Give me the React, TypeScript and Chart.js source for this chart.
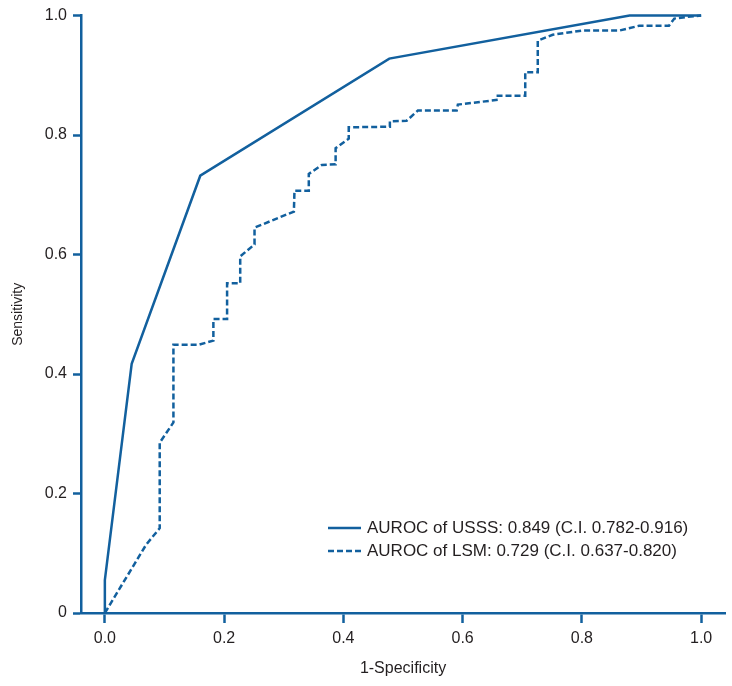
import React, { useEffect, useRef } from "react";
import { Chart, registerables } from "chart.js";

Chart.register(...registerables);

const COLOR = "#12609e";
const TEXT = "#231f20";
const FONT = "'Liberation Sans', Arial, Helvetica, sans-serif";

const usssFpr = [0, 0, 0.045, 0.16, 0.477, 0.88, 1.0];
const usssTpr = [0, 0.055, 0.417, 0.732, 0.928, 1.0, 1.0];

const lsmFpr = [
  0, 0.069, 0.092, 0.092, 0.115, 0.115, 0.157, 0.182, 0.182, 0.205, 0.205,
  0.227, 0.227, 0.251, 0.251, 0.317, 0.318, 0.342, 0.342, 0.364, 0.387, 0.387,
  0.409, 0.409, 0.478, 0.478, 0.506, 0.525, 0.59, 0.592, 0.659, 0.659, 0.705,
  0.705, 0.726, 0.726, 0.751, 0.801, 0.863, 0.896, 0.946, 0.955, 0.977, 1.0,
];
const lsmTpr = [
  0, 0.114, 0.142, 0.285, 0.319, 0.449, 0.449, 0.456, 0.492, 0.492, 0.552,
  0.552, 0.597, 0.617, 0.645, 0.672, 0.707, 0.707, 0.735, 0.75, 0.751, 0.778,
  0.794, 0.813, 0.814, 0.823, 0.824, 0.841, 0.841, 0.851, 0.859, 0.866, 0.866,
  0.905, 0.905, 0.958, 0.968, 0.975, 0.975, 0.983, 0.983, 0.995, 0.998, 1.0,
];

const seriesLabels = [
  "AUROC of USSS: 0.849 (C.I. 0.782-0.916)",
  "AUROC of LSM: 0.729 (C.I. 0.637-0.820)",
];

const xTickValues = [0, 0.2, 0.4, 0.6, 0.8, 1.0];
const xTickLabels = ["0.0", "0.2", "0.4", "0.6", "0.8", "1.0"];
const yTickValues = [0, 0.2, 0.4, 0.6, 0.8, 1.0];
const yTickLabels = ["0", "0.2", "0.4", "0.6", "0.8", "1.0"];

const xTitle = "1-Specificity";
const yTitle = "Sensitivity";

const toPoints = (xs: number[], ys: number[]) => xs.map((x, i) => ({ x, y: ys[i] }));

const legendPlugin = {
  id: "customLegend",
  afterDraw(chart: any) {
    const { ctx, chartArea } = chart;
    const x0 = chartArea.left + 247;
    const y0 = chartArea.bottom - 85;
    ctx.save();
    chart.data.datasets.forEach((ds: any, i: number) => {
      const y = y0 + i * 23;
      ctx.beginPath();
      ctx.setLineDash(ds.borderDash || []);
      ctx.strokeStyle = ds.borderColor;
      ctx.lineWidth = ds.borderWidth;
      ctx.moveTo(x0, y);
      ctx.lineTo(x0 + 33, y);
      ctx.stroke();
      ctx.setLineDash([]);
      ctx.fillStyle = TEXT;
      ctx.font = `17px ${FONT}`;
      ctx.textBaseline = "middle";
      ctx.textAlign = "left";
      ctx.fillText(ds.label, x0 + 39, y);
    });
    ctx.restore();
  },
};

export default function App() {
  const ref = useRef<HTMLCanvasElement>(null);

  useEffect(() => {
    if (!ref.current) return;
    const chart = new Chart(ref.current, {
      type: "line",
      data: {
        datasets: [
          {
            label: seriesLabels[0],
            data: toPoints(usssFpr, usssTpr),
            borderColor: COLOR,
            backgroundColor: COLOR,
            borderWidth: 2.5,
            pointRadius: 0,
            tension: 0,
            fill: false,
            clip: false,
          },
          {
            label: seriesLabels[1],
            data: toPoints(lsmFpr, lsmTpr),
            borderColor: COLOR,
            backgroundColor: COLOR,
            borderWidth: 2.5,
            borderDash: [6, 3],
            pointRadius: 0,
            tension: 0,
            fill: false,
            clip: false,
          },
        ],
      },
      options: {
        animation: false,
        responsive: false,
        maintainAspectRatio: false,
        layout: { padding: { top: 14, right: 7, left: 0, bottom: 0 } },
        plugins: {
          legend: { display: false },
          tooltip: { enabled: false },
        },
        scales: {
          x: {
            type: "linear",
            min: -0.04,
            max: 1.04,
            afterBuildTicks: (scale: any) => {
              scale.ticks = xTickValues.map((v) => ({ value: v }));
            },
            afterFit: (scale: any) => {
              scale.height = 73;
            },
            border: { display: true, color: COLOR, width: 2.5 },
            grid: {
              drawOnChartArea: false,
              drawTicks: true,
              tickLength: 10,
              tickWidth: 2.5,
              tickColor: COLOR,
              color: COLOR,
            },
            ticks: {
              padding: 6,
              color: TEXT,
              font: { family: FONT, size: 16 },
              maxRotation: 0,
              callback: (v: any) => {
                const i = xTickValues.findIndex((t) => Math.abs(t - Number(v)) < 1e-6);
                return i >= 0 ? xTickLabels[i] : "";
              },
            },
            title: {
              display: true,
              text: xTitle,
              color: TEXT,
              font: { family: FONT, size: 16 },
              padding: { top: 0, bottom: 8 },
            },
          },
          y: {
            type: "linear",
            min: 0,
            max: 1,
            afterBuildTicks: (scale: any) => {
              scale.ticks = yTickValues.map((v) => ({ value: v }));
            },
            afterFit: (scale: any) => {
              scale.width = 81;
            },
            border: { display: true, color: COLOR, width: 2.5 },
            grid: {
              drawOnChartArea: false,
              drawTicks: true,
              tickLength: 8,
              tickWidth: 2.5,
              tickColor: COLOR,
              color: COLOR,
            },
            ticks: {
              padding: 6,
              color: TEXT,
              font: { family: FONT, size: 16 },
              callback: (v: any) => {
                const i = yTickValues.findIndex((t) => Math.abs(t - Number(v)) < 1e-6);
                return i >= 0 ? yTickLabels[i] : "";
              },
            },
            title: {
              display: true,
              text: yTitle,
              color: TEXT,
              font: { family: FONT, size: 14 },
              padding: { top: 10, bottom: 0 },
            },
          },
        },
      },
      plugins: [legendPlugin],
    } as any);
    return () => chart.destroy();
  }, []);

  return (
    <div style={{ position: "fixed", left: 0, top: 0, width: 732, height: 686, background: "#fff" }}>
      <canvas ref={ref} width={732} height={686} />
    </div>
  );
}
